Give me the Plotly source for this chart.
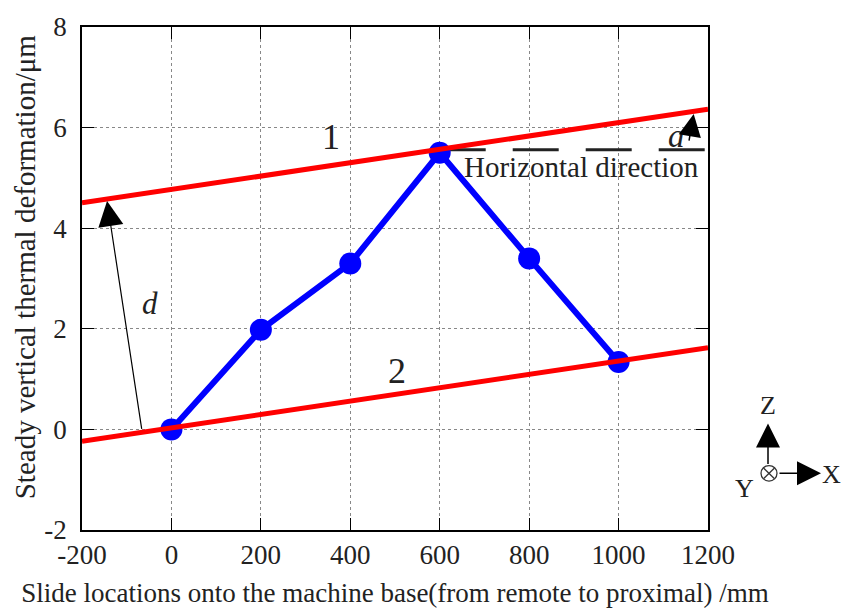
import plotly.graph_objects as go

# Measured slide positions and steady vertical deformation
positions = [0, 200, 400, 600, 800, 1000]
deformation = [0.0, 1.98, 3.30, 5.50, 3.40, 1.34]

# Bounding lines 1 and 2 (parallel, same inclination)
line_x = [-200, 1200]
slope = 0.00133
intercept_1 = 4.77
intercept_2 = 0.03
line1_y = [intercept_1 + slope * x for x in line_x]
line2_y = [intercept_2 + slope * x for x in line_x]

# Horizontal reference through the apex
horiz_x = [600, 1200]
horiz_y = [5.56, 5.56]

x_ticks = [-200, 0, 200, 400, 600, 800, 1000, 1200]
x_tick_text = ["-200", "0", "200", "400", "600", "800", "1000", "1200"]
y_ticks = [-2, 0, 2, 4, 6, 8]
y_tick_text = ["-2", "0", "2", "4", "6", "8"]

FONT = "Liberation Serif"

fig = go.Figure()

fig.add_trace(go.Scatter(x=horiz_x, y=horiz_y, mode="lines",
                         line=dict(color="#222222", width=3, dash="46px,27px"),
                         hoverinfo="skip", showlegend=False))
fig.add_trace(go.Scatter(x=positions, y=deformation, mode="lines+markers",
                         line=dict(color="#0000FF", width=6),
                         marker=dict(color="#0000FF", size=22),
                         showlegend=False))
fig.add_trace(go.Scatter(x=line_x, y=line1_y, mode="lines",
                         line=dict(color="#FF0000", width=5), showlegend=False))
fig.add_trace(go.Scatter(x=line_x, y=line2_y, mode="lines",
                         line=dict(color="#FF0000", width=5), showlegend=False))

annotations = [
    dict(x=357, y=5.82, text="1", showarrow=False, font=dict(size=36)),
    dict(x=505, y=1.16, text="2", showarrow=False, font=dict(size=36)),
    dict(x=918, y=5.22, text="Horizontal direction", showarrow=False, font=dict(size=29)),
    dict(x=-48, y=2.5, text="<i>d</i>", showarrow=False, font=dict(size=31)),
    dict(x=1129, y=5.83, text="<i>a</i>", showarrow=False, font=dict(size=33)),
    # arrow d between the two lines
    dict(x=-144, y=4.54, ax=-66, ay=-0.02, axref="x", ayref="y", text="",
         showarrow=True, arrowhead=2, arrowsize=4.2, arrowwidth=1.2,
         arrowcolor="#000000", standoff=0),
    # inclination arrow a
    dict(x=1168, y=6.27, ax=1157, ay=5.71, axref="x", ayref="y", text="",
         showarrow=True, arrowhead=2, arrowsize=3.0, arrowwidth=1.5,
         arrowcolor="#000000", standoff=0),
]

# Coordinate system icon (Z up, X right, Y into page)
def px(xp):
    return (xp - 82) / 626.0

def py(yp):
    return (530 - yp) / 515.0

annotations += [
    dict(xref="paper", yref="paper", x=px(768), y=py(421), ax=0, ay=42,
         text="", showarrow=True, arrowhead=2, arrowsize=3.2, arrowwidth=1.5,
         arrowcolor="#000000", standoff=0),
    dict(xref="paper", yref="paper", x=px(821), y=py(472), ax=-43, ay=0,
         text="", showarrow=True, arrowhead=2, arrowsize=3.2, arrowwidth=1.5,
         arrowcolor="#000000", standoff=0),
    dict(xref="paper", yref="paper", x=px(768), y=py(403), text="Z",
         xanchor="center", yanchor="middle", showarrow=False, font=dict(size=26)),
    dict(xref="paper", yref="paper", x=px(831), y=py(473), text="X",
         xanchor="center", yanchor="middle", showarrow=False, font=dict(size=26)),
    dict(xref="paper", yref="paper", x=px(744), y=py(488), text="Y",
         xanchor="center", yanchor="middle", showarrow=False, font=dict(size=26)),
    # y-axis title
    dict(xref="paper", yref="paper", x=px(25), y=py(261),
         text="Steady vertical thermal deformation/μm", textangle=-90,
         xanchor="center", yanchor="middle", showarrow=False,
         font=dict(size=29)),
]

shapes = [
    dict(type="circle", xref="paper", yref="paper",
         x0=px(761), x1=px(777), y0=py(480), y1=py(464),
         line=dict(color="#333333", width=1.3)),
    dict(type="line", xref="paper", yref="paper",
         x0=px(763.5), x1=px(774.5), y0=py(477.5), y1=py(466.5),
         line=dict(color="#333333", width=1.3)),
    dict(type="line", xref="paper", yref="paper",
         x0=px(763.5), x1=px(774.5), y0=py(466.5), y1=py(477.5),
         line=dict(color="#333333", width=1.3)),
]

axis_common = dict(
    showline=True, linecolor="#000000", linewidth=1.5, mirror="ticks",
    ticks="inside", ticklen=12, tickwidth=1.2, tickcolor="#000000",
    showgrid=True, gridcolor="#888888", gridwidth=1, griddash="dot",
    zeroline=False, tickfont=dict(family=FONT, size=27, color="#222222"),
)

fig.update_layout(
    width=847, height=616,
    margin=dict(l=82, r=139, t=15, b=86),
    paper_bgcolor="white", plot_bgcolor="white",
    font=dict(family=FONT, color="#222222"),
    annotations=annotations, shapes=shapes,
    xaxis=dict(range=[-200, 1200], tickvals=x_ticks, ticktext=x_tick_text,
               title=dict(text="Slide locations onto the machine base(from remote to proximal) /mm",
                          font=dict(family=FONT, size=27), standoff=14),
               **axis_common),
    yaxis=dict(range=[-2, 8], tickvals=y_ticks, ticktext=y_tick_text,
               ticklabelstandoff=8, **axis_common),
)

fig.write_html("out.html")
